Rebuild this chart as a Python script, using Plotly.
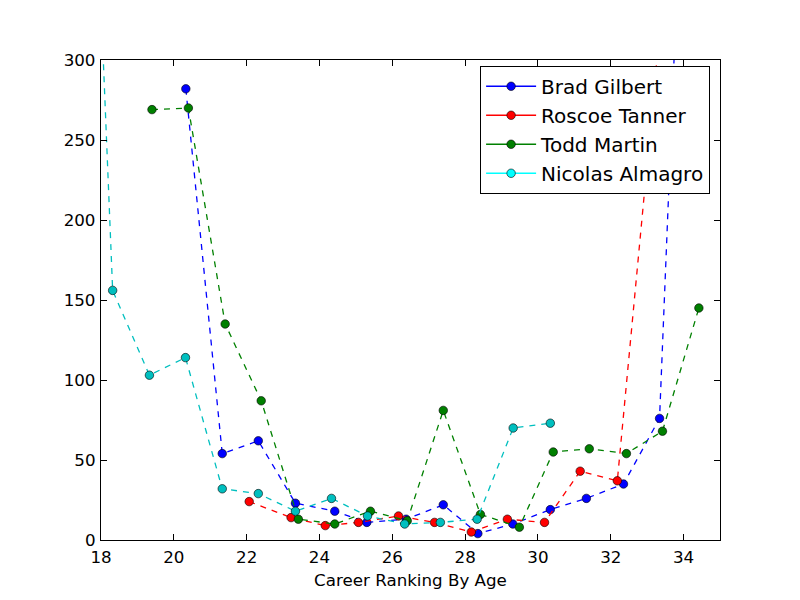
import plotly.graph_objects as go

# ---- data ----
gilbert_age = [20.33, 21.33, 22.32, 23.34, 24.42, 25.30, 26.38, 27.40, 28.35, 29.31, 30.34, 31.33, 32.35, 33.34, 34.34]
gilbert_rank = [282, 54, 62, 23, 18, 11, 13, 22, 4, 10, 19, 26, 35, 76, 640]

tanner_age = [22.07, 23.22, 24.16, 25.07, 26.17, 27.16, 28.17, 29.16, 30.18, 31.16, 32.18, 33.35]
tanner_rank = [24, 14, 9, 11, 15, 11, 5, 13, 11, 43, 37, 320]

martin_age = [19.40, 20.40, 21.41, 22.40, 23.42, 24.42, 25.40, 26.41, 27.40, 28.42, 29.49, 30.42, 31.41, 32.43, 33.42, 34.42]
martin_rank = [269, 270, 135, 87, 13, 10, 18, 12, 81, 16, 8, 55, 57, 54, 68, 145]

almagro_age = [17.32, 18.32, 19.33, 20.32, 21.33, 22.32, 23.34, 24.33, 25.32, 26.34, 27.32, 28.33, 29.32, 30.34]
almagro_rank = [717, 156, 103, 114, 32, 29, 18, 26, 15, 10, 11, 13, 70, 73]

names = ["Brad Gilbert", "Roscoe Tanner", "Todd Martin", "Nicolas Almagro"]
ages = [gilbert_age, tanner_age, martin_age, almagro_age]
ranks = [gilbert_rank, tanner_rank, martin_rank, almagro_rank]
plot_colors = ["#0000ff", "#ff0000", "#008000", "#00bfbf"]
legend_colors = ["#0000ff", "#ff0000", "#008000", "#00ffff"]

x_ticks = [18, 20, 22, 24, 26, 28, 30, 32, 34]
y_ticks = [0, 50, 100, 150, 200, 250, 300]

FONT = "DejaVu Sans"

fig = go.Figure()
for name, x, y, c in zip(names, ages, ranks, plot_colors):
    fig.add_trace(go.Scatter(
        x=x, y=y, mode="lines+markers", name=name, showlegend=False,
        line=dict(color=c, width=1.3, dash="6px,6px"),
        marker=dict(color=c, size=8.5, line=dict(color="black", width=0.6)),
    ))
# legend-only entries (solid line style, as in the reference legend)
for name, c in zip(names, legend_colors):
    fig.add_trace(go.Scatter(
        x=[None], y=[None], mode="lines+markers", name=name,
        line=dict(color=c, width=1.3),
        marker=dict(color=c, size=8.5, line=dict(color="black", width=0.6)),
    ))

axis_common = dict(
    showgrid=False, zeroline=False, showline=True, linecolor="black", linewidth=1.3,
    mirror="allticks", ticks="inside", ticklen=6, tickwidth=1, tickcolor="black",
    tickfont=dict(family=FONT, size=16.7, color="black"),
)

fig.update_layout(
    width=800, height=600,
    paper_bgcolor="white", plot_bgcolor="white",
    margin=dict(l=101, r=80, t=60, b=60),
    font=dict(family=FONT, color="black"),
    xaxis=dict(range=[18, 35], tickvals=x_ticks, ticktext=[str(v) for v in x_ticks],
               ticklabelstandoff=2,
               title=dict(text="Career Ranking By Age", font=dict(family=FONT, size=16.7), standoff=8),
               **axis_common),
    yaxis=dict(range=[0, 300], tickvals=y_ticks, ticktext=[str(v) for v in y_ticks],
               ticklabelstandoff=1,
               **axis_common),
    legend=dict(x=0.984, y=0.988, xanchor="right", yanchor="top",
                bgcolor="white", bordercolor="black", borderwidth=1,
                font=dict(family=FONT, size=20, color="black"),
                itemwidth=50, tracegroupgap=0),
)

fig.write_html("out.html")
